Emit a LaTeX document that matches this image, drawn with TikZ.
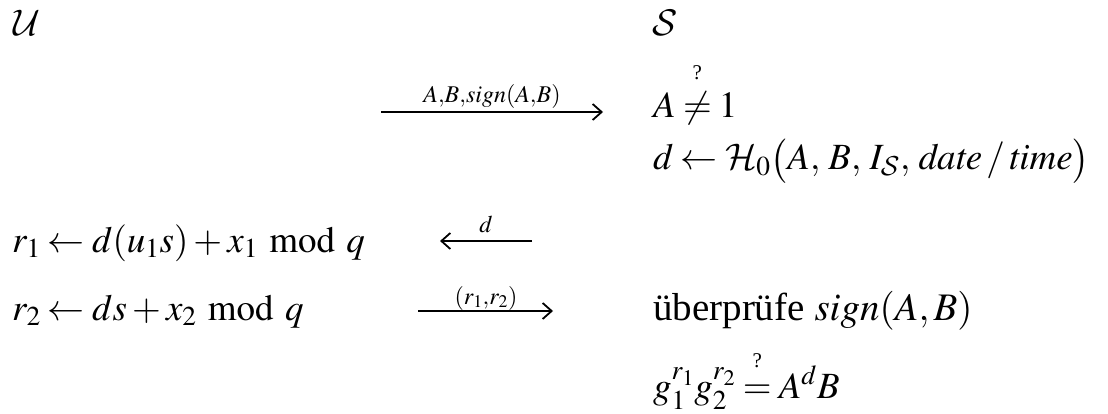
\documentclass[tikz,border=0pt]{standalone}
\usepackage{amsmath}
\usepackage{mathptmx}
\DeclareFontFamily{OMS}{mycmsy}{\skewchar\font48}
\DeclareFontShape{OMS}{mycmsy}{m}{n}{<->cmsy10}{}
\DeclareMathAlphabet{\mathcal}{OMS}{mycmsy}{m}{n}
\usepackage[no-math]{fontspec}
\setmainfont{Liberation Serif}
\usetikzlibrary{arrows.meta}
\newcommand{\qmark}[2]{\overset{\raisebox{#1}{\fontsize{21}{21}\selectfont ?}}{#2}}
\newcommand{\mymod}{\mathbin{\mkern3mu\mathrm{mod}\mkern3mu}}
\tikzset{
  txt/.style={anchor=base west, inner sep=0pt, font=\fontsize{37}{44}\selectfont},
  lbl/.style={anchor=base, inner sep=0pt, font=\fontsize{24}{28}\selectfont},
  msg/.style={line width=1.8pt, -{Straight Barb[length=9pt,width=16pt,line width=1.8pt]}}
}
\begin{document}
\begin{tikzpicture}[x=1pt,y=-1pt]
\thickmuskip=3.5mu \medmuskip=2.5mu
\useasboundingbox (0,0) rectangle (1108,414);
% headers
\node[txt] (U) at (13,36) {$\mathcal{U}$};
\node[txt] (S) at (652,36) {$\mathcal{S}$};
% server lines
\node[txt] (s1) at (653,118) {$A\qmark{5pt}{\neq}1$};
\node[txt] (s2) at (653,170) {$d \leftarrow \mathcal{H}_0\bigl(A,\,B,\,I_{\mathcal{S}},\,\mathit{date}\,/\,\mathit{time}\bigr)$};
\node[txt, font=\fontsize{39}{46}\selectfont] (s3) at (653,320) {überprüfe $\mathit{sign}(A,B)$};
\node[txt] (s4) at (653,398) {$g_1^{r_1}g_2^{r_2}\qmark{10pt}{=}A^dB$};
% user lines
\node[txt] (u1) at (12,252) {$r_1 \leftarrow d(u_1s)+x_1 \mymod q$};
\node[txt] (u2) at (12,320) {$r_2 \leftarrow ds+x_2 \mymod q$};
% messages
\coordinate (m1a) at (381,112); \coordinate (m1b) at (603,112);
\coordinate (m2a) at (532,241); \coordinate (m2b) at (440,241);
\coordinate (m3a) at (418,311); \coordinate (m3b) at (553,311);
\draw[msg] (m1a) -- (m1b);
\draw[msg] (m2a) -- (m2b);
\draw[msg] (m3a) -- (m3b);
\node[lbl] (l1) at (492,103) {$A{,}B{,}\mathit{sign}(A{,}B)$};
\node[lbl] (l2) at (486,233) {$d$};
\node[lbl] (l3) at (486,304) {$(r_1{,}r_2)$};
\end{tikzpicture}
\end{document}
